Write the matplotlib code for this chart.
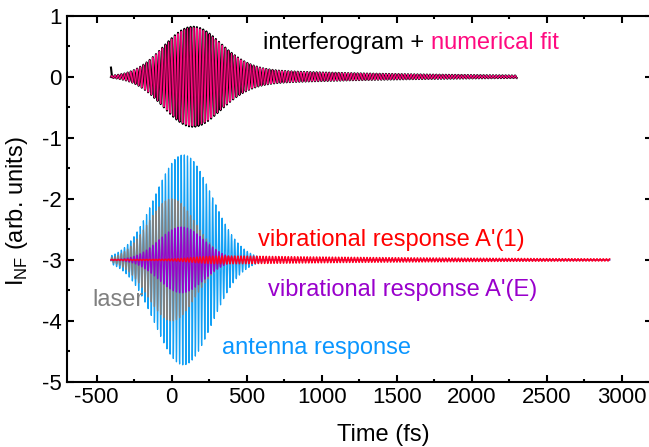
import numpy as np
import matplotlib.pyplot as plt
from matplotlib.ticker import MultipleLocator

plt.rcParams['font.family'] = ['Liberation Sans', 'DejaVu Sans']
plt.rcParams['axes.unicode_minus'] = False

# time axis of the traces (fs)
t_start, t_end_fit, t_end_sim = -405, 2300, 2920
dt = 0.5
carrier_period = 21.0   # fs, read from the fringe spacing

# envelope parameters: [amplitude, centre (fs), sigma (fs)]
interf_pulse = [0.80, 140, 195]
interf_tail = [0.12, 420, 1050]      # amplitude, onset (fs), decay (fs)
antenna_pulse = [1.72, 78, 190]
laser_pulse = [1.00, 0, 158]
vibE_pulse = [0.54, 65, 150]
vib1_tail = [0.07, 150, 1500]        # amplitude, onset (fs), decay (fs)
hook_t = [-405, -398]
hook_v = [0.15, 0.0]
baseline_low = -3

fit_pink = '#FF0A80'
antenna_blue = '#12A0F5'
laser_grey = '#808080'
vibE_purple = '#9900CC'
vib1_red = '#FF0022'


def gauss(t, p):
    return p[0] * np.exp(-(t - p[1]) ** 2 / (2 * p[2] ** 2))


def tail(t, p):
    on = 1 / (1 + np.exp(-(t - p[1]) / 80))
    return p[0] * on * np.exp(-np.clip(t - p[1], 0, None) / p[2])


t_fit = np.arange(t_start, t_end_fit, dt)
t_sim = np.arange(t_start, t_end_sim, dt)
carrier_fit = np.cos(2 * np.pi * t_fit / carrier_period)
carrier_sim = np.cos(2 * np.pi * t_sim / carrier_period)

interf = (gauss(t_fit, interf_pulse) + tail(t_fit, interf_tail)) * carrier_fit
antenna = baseline_low + gauss(t_sim, antenna_pulse) * carrier_sim
laser = baseline_low + gauss(t_sim, laser_pulse) * carrier_sim
vibE = baseline_low + gauss(t_sim, vibE_pulse) * carrier_sim
vib1 = baseline_low + (tail(t_sim, vib1_tail) + 0.008) * carrier_sim

fig = plt.figure(figsize=(6.49, 4.47), dpi=100)
ax = fig.add_axes([0.1028, 0.1454, 0.9014, 0.8195])

ax.plot(hook_t, hook_v, color='black', lw=1.5)
ax.plot(t_fit, interf * 1.02, color='black', lw=1.5)
ax.plot(t_fit, interf, color=fit_pink, lw=0.8)

ax.plot(t_sim, antenna, color=antenna_blue, lw=0.9)
ax.plot(t_sim, laser, color=laser_grey, lw=0.9)
ax.plot(t_sim, vibE, color=vibE_purple, lw=0.9)
ax.plot(t_sim, vib1, color=vib1_red, lw=1.0)

fs = 16
afs = 17
t1 = ax.text(610, 0.55, 'interferogram + ', color='black', fontsize=afs, va='center')
ax.annotate('numerical fit', xy=(1, 0.5), xycoords=t1, color=fit_pink,
            fontsize=afs, va='center', ha='left')
ax.text(575, -2.68, "vibrational response A'(1)", color='#FF0000', fontsize=afs, va='center')
ax.text(642, -3.50, "vibrational response A'(E)", color=vibE_purple, fontsize=afs, va='center')
ax.text(-531, -3.66, 'laser', color=laser_grey, fontsize=afs, va='center')
ax.text(335, -4.45, 'antenna response', color='#0A96FF', fontsize=afs, va='center')

ax.set_xlim(-700, 3200)
ax.set_ylim(-5, 1)
ax.xaxis.set_major_locator(MultipleLocator(500))
ax.xaxis.set_minor_locator(MultipleLocator(250))
ax.yaxis.set_major_locator(MultipleLocator(1))
ax.yaxis.set_minor_locator(MultipleLocator(0.5))
ax.tick_params(which='both', direction='in', top=True, right=True, labelsize=fs, width=1.5)
ax.tick_params(which='major', length=5)
ax.tick_params(which='minor', length=2.5)
for s in ax.spines.values():
    s.set_linewidth(1.5)

ax.set_xlabel('Time (fs)', fontsize=17)
ax.xaxis.set_label_coords(0.541, -0.115, transform=ax.transAxes)
ax.set_ylabel('I$_{\\mathregular{NF}}$ (arb. units)', fontsize=17)
ax.yaxis.set_label_coords(-0.062, 0.467, transform=ax.transAxes)

fig.savefig('out.png', dpi=100)
